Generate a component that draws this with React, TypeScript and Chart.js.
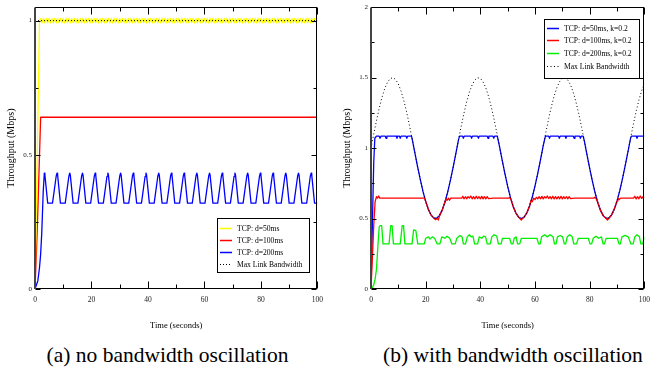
import React, { useEffect, useRef } from 'react';
import { Chart, registerables } from 'chart.js';

Chart.register(...registerables);

const SERIF = '"Liberation Serif", serif';

// ---------------- shared tick labels ----------------
const X_TICK_LABELS = [0, 20, 40, 60, 80, 100];
const A_Y_TICK_LABELS = [0, 0.5, 1];
const B_Y_TICK_LABELS = [0, 0.5, 1, 1.5, 2];

// ---------------- panel (a): no bandwidth oscillation ----------------
const A_LABELS = ['TCP: d=50ms', 'TCP: d=100ms', 'TCP: d=200ms', 'Max Link Bandwidth'];

const A_D50_T = [0, 1.6,
  2, 2.5, 3, 3.5, 4, 4.5, 5, 5.5, 6, 6.5,
  7, 7.5, 8, 8.5, 9, 9.5, 10, 10.5, 11, 11.5,
  12, 12.5, 13, 13.5, 14, 14.5, 15, 15.5, 16, 16.5,
  17, 17.5, 18, 18.5, 19, 19.5, 20, 20.5, 21, 21.5,
  22, 22.5, 23, 23.5, 24, 24.5, 25, 25.5, 26, 26.5,
  27, 27.5, 28, 28.5, 29, 29.5, 30, 30.5, 31, 31.5,
  32, 32.5, 33, 33.5, 34, 34.5, 35, 35.5, 36, 36.5,
  37, 37.5, 38, 38.5, 39, 39.5, 40, 40.5, 41, 41.5,
  42, 42.5, 43, 43.5, 44, 44.5, 45, 45.5, 46, 46.5,
  47, 47.5, 48, 48.5, 49, 49.5, 50, 50.5, 51, 51.5,
  52, 52.5, 53, 53.5, 54, 54.5, 55, 55.5, 56, 56.5,
  57, 57.5, 58, 58.5, 59, 59.5, 60, 60.5, 61, 61.5,
  62, 62.5, 63, 63.5, 64, 64.5, 65, 65.5, 66, 66.5,
  67, 67.5, 68, 68.5, 69, 69.5, 70, 70.5, 71, 71.5,
  72, 72.5, 73, 73.5, 74, 74.5, 75, 75.5, 76, 76.5,
  77, 77.5, 78, 78.5, 79, 79.5, 80, 80.5, 81, 81.5,
  82, 82.5, 83, 83.5, 84, 84.5, 85, 85.5, 86, 86.5,
  87, 87.5, 88, 88.5, 89, 89.5, 90, 90.5, 91, 91.5,
  92, 92.5, 93, 93.5, 94, 94.5, 95, 95.5, 96, 96.5,
  97, 97.5, 98, 98.5, 99, 99.5, 100];
const A_D50_V = [0, 1.0,
  1.008, 0.992, 1.008, 0.992, 1.008, 0.992, 1.008, 0.992, 1.008, 0.992,
  1.008, 0.992, 1.008, 0.992, 1.008, 0.992, 1.008, 0.992, 1.008, 0.992,
  1.008, 0.992, 1.008, 0.992, 1.008, 0.992, 1.008, 0.992, 1.008, 0.992,
  1.008, 0.992, 1.008, 0.992, 1.008, 0.992, 1.008, 0.992, 1.008, 0.992,
  1.008, 0.992, 1.008, 0.992, 1.008, 0.992, 1.008, 0.992, 1.008, 0.992,
  1.008, 0.992, 1.008, 0.992, 1.008, 0.992, 1.008, 0.992, 1.008, 0.992,
  1.008, 0.992, 1.008, 0.992, 1.008, 0.992, 1.008, 0.992, 1.008, 0.992,
  1.008, 0.992, 1.008, 0.992, 1.008, 0.992, 1.008, 0.992, 1.008, 0.992,
  1.008, 0.992, 1.008, 0.992, 1.008, 0.992, 1.008, 0.992, 1.008, 0.992,
  1.008, 0.992, 1.008, 0.992, 1.008, 0.992, 1.008, 0.992, 1.008, 0.992,
  1.008, 0.992, 1.008, 0.992, 1.008, 0.992, 1.008, 0.992, 1.008, 0.992,
  1.008, 0.992, 1.008, 0.992, 1.008, 0.992, 1.008, 0.992, 1.008, 0.992,
  1.008, 0.992, 1.008, 0.992, 1.008, 0.992, 1.008, 0.992, 1.008, 0.992,
  1.008, 0.992, 1.008, 0.992, 1.008, 0.992, 1.008, 0.992, 1.008, 0.992,
  1.008, 0.992, 1.008, 0.992, 1.008, 0.992, 1.008, 0.992, 1.008, 0.992,
  1.008, 0.992, 1.008, 0.992, 1.008, 0.992, 1.008, 0.992, 1.008, 0.992,
  1.008, 0.992, 1.008, 0.992, 1.008, 0.992, 1.008, 0.992, 1.008, 0.992,
  1.008, 0.992, 1.008, 0.992, 1.008, 0.992, 1.008, 0.992, 1.008, 0.992,
  1.008, 0.992, 1.008, 0.992, 1.008, 0.992, 1.008, 0.992, 1.008, 0.992,
  1.008, 0.992, 1.008, 0.992, 1.008, 0.992, 1.008];

const A_D100_T = [0, 0.8, 2.0, 100];
const A_D100_V = [0, 0.22, 0.64, 0.64];

const A_D200_T = [0, 1, 1.6, 2, 2.4, 2.9, 3.3, 3.5, 4.5,
  6.2, 7.5, 7.8, 8, 9,
  10.7, 12, 12.3, 12.5, 13.5,
  15.2, 16.5, 16.8, 17, 18,
  19.7, 21, 21.3, 21.5, 22.5,
  24.2, 25.5, 25.8, 26, 27,
  28.7, 30, 30.3, 30.5, 31.5,
  33.2, 34.5, 34.8, 35, 36,
  37.7, 39, 39.3, 39.5, 40.5,
  42.2, 43.5, 43.8, 44, 45,
  46.7, 48, 48.3, 48.5, 49.5,
  51.2, 52.5, 52.8, 53, 54,
  55.7, 57, 57.3, 57.5, 58.5,
  60.2, 61.5, 61.8, 62, 63,
  64.7, 66, 66.3, 66.5, 67.5,
  69.2, 70.5, 70.8, 71, 72,
  73.7, 75, 75.3, 75.5, 76.5,
  78.2, 79.5, 79.8, 80, 81,
  82.7, 84, 84.3, 84.5, 85.5,
  87.2, 88.5, 88.8, 89, 90,
  91.7, 93, 93.3, 93.5, 94.5,
  96.2, 97.5, 97.8, 98, 99,
  100];
const A_D200_V = [0, 0.03, 0.08, 0.13, 0.21, 0.36, 0.432, 0.425, 0.32,
  0.32, 0.42, 0.432, 0.425, 0.32,
  0.32, 0.42, 0.432, 0.425, 0.32,
  0.32, 0.42, 0.432, 0.425, 0.32,
  0.32, 0.42, 0.432, 0.425, 0.32,
  0.32, 0.42, 0.432, 0.425, 0.32,
  0.32, 0.42, 0.432, 0.425, 0.32,
  0.32, 0.42, 0.432, 0.425, 0.32,
  0.32, 0.42, 0.432, 0.425, 0.32,
  0.32, 0.42, 0.432, 0.425, 0.32,
  0.32, 0.42, 0.432, 0.425, 0.32,
  0.32, 0.42, 0.432, 0.425, 0.32,
  0.32, 0.42, 0.432, 0.425, 0.32,
  0.32, 0.42, 0.432, 0.425, 0.32,
  0.32, 0.42, 0.432, 0.425, 0.32,
  0.32, 0.42, 0.432, 0.425, 0.32,
  0.32, 0.42, 0.432, 0.425, 0.32,
  0.32, 0.42, 0.432, 0.425, 0.32,
  0.32, 0.42, 0.432, 0.425, 0.32,
  0.32, 0.42, 0.432, 0.425, 0.32,
  0.32, 0.42, 0.432, 0.425, 0.32,
  0.32, 0.42, 0.432, 0.425, 0.32,
  0.32];

const A_BW_T = [0, 100];
const A_BW_V = [1, 1];

// ---------------- panel (b): with bandwidth oscillation ----------------
const B_LABELS = ['TCP: d=50ms, k=0.2', 'TCP: d=100ms, k=0.2', 'TCP: d=200ms, k=0.2', 'Max Link Bandwidth'];

const B_BW_T = [0, 1, 2, 3, 4, 5, 6, 7, 8, 9,
  10, 11, 12, 13, 14, 15, 16, 17, 18, 19,
  20, 21, 22, 23, 24, 25, 26, 27, 28, 29,
  30, 31, 32, 33, 34, 35, 36, 37, 38, 39,
  40, 41, 42, 43, 44, 45, 46, 47, 48, 49,
  50, 51, 52, 53, 54, 55, 56, 57, 58, 59,
  60, 61, 62, 63, 64, 65, 66, 67, 68, 69,
  70, 71, 72, 73, 74, 75, 76, 77, 78, 79,
  80, 81, 82, 83, 84, 85, 86, 87, 88, 89,
  90, 91, 92, 93, 94, 95, 96, 97, 98, 99, 100];
const B_BW_V = [1.000, 1.099, 1.195, 1.282, 1.359, 1.421, 1.466, 1.493, 1.500, 1.487,
  1.455, 1.404, 1.338, 1.258, 1.168, 1.071, 0.971, 0.872, 0.779, 0.694,
  0.622, 0.564, 0.524, 0.503, 0.502, 0.521, 0.558, 0.614, 0.684, 0.768,
  0.860, 0.958, 1.058, 1.156, 1.247, 1.328, 1.397, 1.449, 1.484, 1.499,
  1.495, 1.470, 1.427, 1.367, 1.292, 1.206, 1.111, 1.012, 0.913, 0.817,
  0.728, 0.650, 0.586, 0.539, 0.510, 0.500, 0.510, 0.540, 0.589, 0.653,
  0.732, 0.821, 0.917, 1.017, 1.116, 1.210, 1.296, 1.370, 1.430, 1.472,
  1.495, 1.499, 1.483, 1.448, 1.395, 1.325, 1.244, 1.151, 1.054, 0.954,
  0.856, 0.764, 0.681, 0.611, 0.556, 0.519, 0.502, 0.504, 0.526, 0.567,
  0.625, 0.698, 0.783, 0.877, 0.975, 1.075, 1.172, 1.262, 1.341, 1.407, 1.456];

// [time, throughput] samples
const B_D50 = [[0, 0], [0.5, 0.45], [1, 0.9], [1.4, 1.07], [2, 1.085], [3, 1.085], [3.3, 1.07], [3.7, 1.085],
  [5.2, 1.085], [5.5, 1.07], [5.8, 1.085], [9.2, 1.085], [9.5, 1.07], [9.8, 1.085], [10.4, 1.085], [10.7, 1.07],
  [11, 1.085], [12.8, 1.085], [13.1, 1.07], [13.4, 1.085], [14.8, 1.085],
  [15, 1.071], [16, 0.971], [17, 0.872], [18, 0.779], [19, 0.694], [20, 0.622], [21, 0.564], [22, 0.524],
  [23, 0.503], [24, 0.502], [25, 0.521], [26, 0.558], [27, 0.614], [28, 0.684], [29, 0.768], [30, 0.86],
  [31, 0.958], [32, 1.058], [32.4, 1.085], [33.5, 1.085], [33.8, 1.07], [34.1, 1.085], [36.5, 1.085],
  [36.8, 1.07], [37.1, 1.085], [39, 1.085], [39.3, 1.07], [39.6, 1.085], [42.5, 1.085], [42.8, 1.07],
  [43.1, 1.085], [44.6, 1.085], [44.9, 1.07], [45.2, 1.085], [46.2, 1.085],
  [47, 1.012], [48, 0.913], [49, 0.817], [50, 0.728], [51, 0.65], [52, 0.586], [53, 0.539], [54, 0.51],
  [55, 0.5], [56, 0.51], [57, 0.54], [58, 0.589], [59, 0.653], [60, 0.732], [61, 0.821], [62, 0.917],
  [63, 1.017], [63.8, 1.085], [65, 1.085], [65.3, 1.07], [65.6, 1.085], [68.6, 1.085], [68.9, 1.07],
  [69.2, 1.085], [71, 1.085], [71.3, 1.07], [71.6, 1.085], [74, 1.085], [74.3, 1.07], [74.6, 1.085],
  [76.3, 1.085], [76.6, 1.07], [76.9, 1.085], [77.6, 1.085],
  [78, 1.054], [79, 0.954], [80, 0.856], [81, 0.764], [82, 0.681], [83, 0.611], [84, 0.556], [85, 0.519],
  [86, 0.502], [87, 0.504], [88, 0.526], [89, 0.567], [90, 0.625], [91, 0.698], [92, 0.783], [93, 0.877],
  [94, 0.975], [95, 1.075], [95.3, 1.085], [97, 1.085], [97.3, 1.07], [97.6, 1.085], [100, 1.085]];

const B_D100 = [[0, 0], [0.5, 0.22], [1, 0.45], [1.5, 0.62], [2, 0.655], [2.4, 0.645], [2.8, 0.66], [3.2, 0.645],
  [19.6, 0.645], [20, 0.622], [21, 0.564], [22, 0.524], [23, 0.503], [23.6, 0.492], [24.2, 0.5], [24.6, 0.49],
  [25, 0.515], [26, 0.558], [27, 0.614], [27.4, 0.64], [27.8, 0.628], [28.3, 0.645], [28.7, 0.63], [29.2, 0.645],
  [33.2, 0.645], [33.6, 0.658], [34, 0.64], [34.6, 0.655], [35, 0.64], [35.5, 0.655], [36, 0.645], [36.5, 0.66],
  [37, 0.64], [37.5, 0.655], [38, 0.64], [38.5, 0.658], [39, 0.642], [39.5, 0.655], [40, 0.64], [40.5, 0.657],
  [41, 0.64], [41.5, 0.655], [42, 0.64], [42.5, 0.655], [43, 0.642], [44.8, 0.645], [50.4, 0.645], [50.8, 0.65],
  [51.2, 0.635], [52, 0.586], [53, 0.539], [54, 0.51], [54.6, 0.497], [55, 0.49], [55.4, 0.5], [56, 0.51],
  [57, 0.54], [58, 0.589], [58.6, 0.63], [59, 0.62], [59.5, 0.645], [60, 0.635], [60.5, 0.65], [61, 0.64],
  [61.5, 0.655], [62, 0.64], [62.5, 0.657], [63, 0.64], [63.5, 0.655], [64, 0.645], [64.5, 0.66], [65, 0.642],
  [65.5, 0.655], [66, 0.64], [66.5, 0.658], [67, 0.64], [67.5, 0.655], [68, 0.64], [68.5, 0.655], [69, 0.64],
  [69.5, 0.657], [70, 0.64], [70.5, 0.655], [71, 0.642], [71.5, 0.655], [72, 0.64], [72.5, 0.655], [73, 0.642],
  [74.5, 0.645], [81.5, 0.645], [82, 0.652], [82.5, 0.635], [83, 0.611], [84, 0.556], [85, 0.519], [86, 0.5],
  [86.5, 0.49], [87, 0.5], [88, 0.526], [89, 0.567], [90, 0.625], [90.3, 0.645], [90.8, 0.635], [91.3, 0.645],
  [96, 0.645], [96.5, 0.658], [97, 0.64], [97.5, 0.655], [98, 0.64], [98.5, 0.66], [99, 0.642], [99.5, 0.655],
  [100, 0.645]];

const B_D200_T = [0, 0.5, 1, 1.5, 2, 2.5, 3, 3.3, 3.9, 4.4,
  6.6, 7.2, 7.7, 8.2, 10.7, 11.4, 11.9, 12.4, 15, 15.6,
  16.4, 17.1, 19.5, 20, 21, 21.6, 22.4, 23.3, 24.2, 25.2,
  25.9, 27, 27.8, 28.8, 29.6, 30.8, 31.4, 32.5, 33.3, 33.8,
  34.6, 35.2, 36, 36.6, 37.3, 37.9, 39, 39.6, 40.5, 41.2,
  41.9, 42.5, 43.6, 44.2, 45, 46, 46.6, 47.6, 48.1, 50.7,
  51.3, 51.9, 52.4, 53.1, 53.6, 54.4, 55, 60.7, 61.3, 61.9,
  62.4, 63.5, 64.5, 65.5, 66.6, 67.1, 67.7, 68.2, 69.2, 70.1,
  70.7, 71.2, 71.8, 72.7, 73.6, 74.2, 75.2, 75.8, 79.5, 80.1,
  80.7, 81.3, 82.3, 83.3, 84.3, 84.9, 85.4, 86, 90.1, 90.7,
  91.2, 91.8, 92.9, 94.1, 95.1, 95.9, 96.5, 97.3, 98.2, 98.7,
  99.4, 100];
const B_D200_V = [0, 0.01, 0.03, 0.07, 0.14, 0.3, 0.44, 0.45, 0.45, 0.32,
  0.32, 0.45, 0.45, 0.32, 0.32, 0.45, 0.45, 0.32, 0.32, 0.42,
  0.415, 0.32, 0.32, 0.36, 0.37, 0.355, 0.37, 0.36, 0.32, 0.32,
  0.37, 0.36, 0.375, 0.36, 0.32, 0.32, 0.36, 0.38, 0.37, 0.32,
  0.32, 0.37, 0.385, 0.37, 0.375, 0.32, 0.32, 0.37, 0.36, 0.375,
  0.37, 0.32, 0.32, 0.37, 0.385, 0.375, 0.32, 0.32, 0.36, 0.36,
  0.32, 0.32, 0.36, 0.37, 0.32, 0.32, 0.36, 0.36, 0.32, 0.32,
  0.37, 0.385, 0.37, 0.385, 0.37, 0.32, 0.32, 0.37, 0.38, 0.37,
  0.32, 0.32, 0.37, 0.385, 0.37, 0.32, 0.32, 0.36, 0.36, 0.32,
  0.32, 0.36, 0.375, 0.36, 0.37, 0.32, 0.32, 0.36, 0.36, 0.32,
  0.32, 0.37, 0.38, 0.37, 0.32, 0.32, 0.37, 0.385, 0.37, 0.32,
  0.32, 0.37];

// ---------------- helpers ----------------
const zip = (t: number[], v: number[]) => t.map((x, i) => ({ x, y: v[i] }));
const pairs = (p: number[][]) => p.map(([x, y]) => ({ x, y }));

function framePlugin(yMajor: number[]) {
  return {
    id: 'frameTicks',
    afterDatasetsDraw(chart: any) {
      const { ctx, chartArea: a } = chart;
      const xs = chart.scales.x;
      const ys = chart.scales.y;
      const L = Math.round(a.left) + 0.5;
      const R = Math.round(a.right) - 0.5;
      const T = Math.round(a.top) + 0.5;
      const B = Math.round(a.bottom) - 0.5;
      ctx.save();
      ctx.strokeStyle = '#000';
      ctx.lineWidth = 1;
      ctx.beginPath();
      xs.ticks.forEach((t: any) => {
        const p = Math.round(xs.getPixelForValue(t.value)) + 0.5;
        const len = X_TICK_LABELS.includes(t.value) ? 7 : 4;
        ctx.moveTo(p, B); ctx.lineTo(p, B - len);
        ctx.moveTo(p, T); ctx.lineTo(p, T + len);
      });
      ys.ticks.forEach((t: any) => {
        const p = Math.round(ys.getPixelForValue(t.value)) + 0.5;
        const len = yMajor.includes(t.value) ? 5 : 3;
        ctx.moveTo(L, p); ctx.lineTo(L + len, p);
        ctx.moveTo(R, p); ctx.lineTo(R - len, p);
      });
      ctx.stroke();
      ctx.strokeRect(L, T, R - L, B - T);
      ctx.strokeStyle = '#444';
      ctx.lineWidth = 2;
      ctx.beginPath();
      ctx.moveTo(Math.round(a.left), T);
      ctx.lineTo(Math.round(a.left), B + 0.5);
      ctx.stroke();
      ctx.restore();
    },
  };
}

type LegendPos = { right: number; top?: number; bottom?: number; w: number; h: number; row0: number; rowH: number };

function legendPlugin(pos: LegendPos) {
  return {
    id: 'boxLegend',
    afterDraw(chart: any) {
      const { ctx, chartArea: a } = chart;
      const x = Math.round(a.right - pos.right - pos.w);
      const y = Math.round(pos.top != null ? a.top + pos.top : a.bottom - (pos.bottom || 0) - pos.h);
      ctx.save();
      ctx.fillStyle = '#fff';
      ctx.fillRect(x, y, pos.w, pos.h);
      ctx.strokeStyle = '#000';
      ctx.lineWidth = 1;
      ctx.strokeRect(x + 0.5, y + 0.5, pos.w, pos.h);
      ctx.font = `7.6px ${SERIF}`;
      ctx.textBaseline = 'middle';
      ctx.textAlign = 'left';
      chart.data.datasets.forEach((ds: any, i: number) => {
        const cy = Math.round(y + pos.row0 + i * pos.rowH) + 0.5;
        ctx.save();
        ctx.strokeStyle = ds.borderColor;
        ctx.lineWidth = ds.borderDash ? 1 : 1.5;
        ctx.setLineDash(ds.borderDash || []);
        ctx.beginPath();
        ctx.moveTo(x + 3, cy);
        ctx.lineTo(x + 15, cy);
        ctx.stroke();
        ctx.restore();
        ctx.fillStyle = '#000';
        ctx.fillText(ds.label, x + 20, cy);
      });
      ctx.restore();
    },
  };
}

type PanelCfg = {
  width: number;
  height: number;
  yMax: number;
  yAxisWidth: number;
  padRight: number;
  padTop: number;
  yTitlePad: number;
  yLabels: number[];
  legend: LegendPos;
  datasets: any[];
};

const CANVAS_H = 340;

const PANEL_A: PanelCfg = {
  width: 330,
  height: CANVAS_H,
  yMax: 1.05,
  yAxisWidth: 35,
  padRight: 11,
  padTop: 4,
  yTitlePad: 5.5,
  yLabels: A_Y_TICK_LABELS,
  legend: { right: 8, bottom: 17, w: 92, h: 54, row0: 9.5, rowH: 12 },
  datasets: [
    { label: A_LABELS[0], data: zip(A_D50_T, A_D50_V), borderColor: '#ffff00', borderWidth: 1.3, order: 1 },
    { label: A_LABELS[1], data: zip(A_D100_T, A_D100_V), borderColor: '#ff0000', borderWidth: 1.3, order: 2 },
    { label: A_LABELS[2], data: zip(A_D200_T, A_D200_V), borderColor: '#0000ff', borderWidth: 1.3, order: 3 },
    { label: A_LABELS[3], data: zip(A_BW_T, A_BW_V), borderColor: '#000000', borderWidth: 1, borderDash: [1, 2], order: 0 },
  ],
};

const PANEL_B: PanelCfg = {
  width: 327,
  height: CANVAS_H,
  yMax: 2,
  yAxisWidth: 41,
  padRight: 3,
  padTop: 5,
  yTitlePad: 11,
  yLabels: B_Y_TICK_LABELS,
  legend: { right: 5, top: 12, w: 95, h: 59, row0: 8.5, rowH: 12.8 },
  datasets: [
    { label: B_LABELS[0], data: pairs(B_D50), borderColor: '#0000ff', borderWidth: 1.3, order: 3 },
    { label: B_LABELS[1], data: pairs(B_D100), borderColor: '#ff0000', borderWidth: 1.3, order: 1 },
    { label: B_LABELS[2], data: zip(B_D200_T, B_D200_V), borderColor: '#00f000', borderWidth: 1.3, order: 2 },
    { label: B_LABELS[3], data: zip(B_BW_T, B_BW_V), borderColor: '#000000', borderWidth: 1, borderDash: [1, 2.5], order: 0 },
  ],
};

function buildConfig(cfg: PanelCfg): any {
  return {
    type: 'line',
    data: {
      datasets: cfg.datasets.map((d) => ({
        ...d,
        fill: false,
        pointRadius: 0,
        pointHoverRadius: 0,
        tension: 0,
        borderJoinStyle: 'round',
      })),
    },
    plugins: [framePlugin(cfg.yLabels), legendPlugin(cfg.legend)],
    options: {
      responsive: false,
      animation: false,
      devicePixelRatio: 1,
      events: [],
      font: { family: SERIF },
      layout: { padding: { left: 0, right: cfg.padRight, top: cfg.padTop, bottom: 0 } },
      plugins: {
        legend: { display: false },
        tooltip: { enabled: false },
        title: { display: false },
      },
      scales: {
        x: {
          type: 'linear',
          min: 0,
          max: 100,
          grid: { display: false, drawTicks: false },
          border: { display: false },
          ticks: {
            stepSize: 10,
            autoSkip: false,
            maxRotation: 0,
            includeBounds: false,
            padding: 7,
            color: '#222',
            font: { family: SERIF, size: 7.5 },
            callback: (v: number) => (X_TICK_LABELS.includes(v) ? String(v) : ''),
          },
          title: {
            display: true,
            text: 'Time (seconds)',
            color: '#000',
            font: { family: SERIF, size: 8.5 },
            padding: { top: 0, bottom: 9 },
          },
          afterFit: (s: any) => { s.height = CANVAS_H - 289; },
        },
        y: {
          type: 'linear',
          min: 0,
          max: cfg.yMax,
          grid: { display: false, drawTicks: false },
          border: { display: false },
          ticks: {
            stepSize: 0.25,
            autoSkip: false,
            includeBounds: false,
            padding: 3,
            color: '#222',
            font: { family: SERIF, size: 7 },
            callback: (v: number) => (cfg.yLabels.includes(v) ? String(v) : ''),
          },
          title: {
            display: true,
            text: 'Throughput (Mbps)',
            color: '#000',
            font: { family: SERIF, size: 10 },
            padding: { top: cfg.yTitlePad, bottom: 0 },
          },
          afterFit: (s: any) => { s.width = cfg.yAxisWidth; },
        },
      },
    },
  };
}

function Panel({ cfg, left }: { cfg: PanelCfg; left: number }) {
  const ref = useRef<HTMLCanvasElement | null>(null);
  useEffect(() => {
    if (!ref.current) return;
    Chart.defaults.font.family = SERIF;
    const chart = new Chart(ref.current, buildConfig(cfg));
    return () => chart.destroy();
  }, [cfg]);
  return (
    <div style={{ position: 'absolute', left, top: 0, width: cfg.width, height: cfg.height }}>
      <canvas ref={ref} width={cfg.width} height={cfg.height} style={{ display: 'block', width: cfg.width, height: cfg.height }} />
    </div>
  );
}

const captionStyle: React.CSSProperties = {
  position: 'absolute',
  top: 342,
  height: 26,
  lineHeight: '26px',
  textAlign: 'center',
  fontFamily: SERIF,
  fontSize: 21.5,
  color: '#000',
  whiteSpace: 'nowrap',
};

export default function App() {
  return (
    <div style={{ position: 'absolute', left: 0, top: 0, width: 657, height: 370, background: '#fff', overflow: 'hidden', fontFamily: SERIF }}>
      <Panel cfg={PANEL_A} left={0} />
      <Panel cfg={PANEL_B} left={330} />
      <div style={{ ...captionStyle, left: 0, width: 335 }}>(a) no bandwidth oscillation</div>
      <div style={{ ...captionStyle, left: 369, width: 288 }}>(b) with bandwidth oscillation</div>
    </div>
  );
}
